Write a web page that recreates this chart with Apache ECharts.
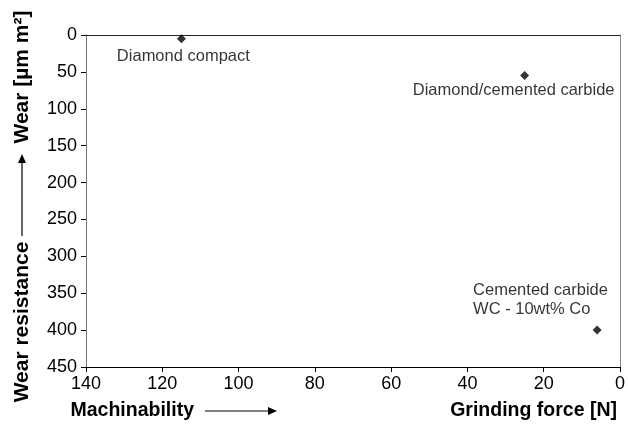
<!DOCTYPE html>
<html>
<head>
<meta charset="utf-8">
<script src="https://cdn.jsdelivr.net/npm/echarts@6/dist/echarts.min.js"></script>
<style>
html,body{margin:0;padding:0;background:#fff;}
#c{width:628px;height:425px;}
</style>
</head>
<body>
<div id="c"></div>
<script>
// Data
const materials = ['Diamond compact', 'Diamond/cemented carbide', 'Cemented carbide\nWC - 10wt% Co'];
const grindingForce = [115, 25, 6];
const wear = [5, 55, 400];
const xTicks = {min: 0, max: 140, interval: 20};
const yTicks = {min: 0, max: 450, interval: 50};

// label placement (styling only)
const labelOffsets = [[2, 18], [-11, 15], [-124, -30]];
const labelAligns = ['center', 'center', 'left'];

const FONT = 'Liberation Sans, Arial, sans-serif';
const chart = echarts.init(document.getElementById('c'), null, {renderer: 'canvas'});

const points = grindingForce.map((f, i) => ({
  value: [f, wear[i]],
  name: materials[i],
  label: {
    show: true,
    position: 'inside',
    offset: labelOffsets[i],
    align: labelAligns[i],
    formatter: materials[i],
    color: '#000',
    fontSize: 16.5,
    lineHeight: 19,
    fontFamily: FONT
  }
}));

function arrowHead(x, y, dir) {
  if (dir === 'right') return [[x, y], [x - 9, y - 4], [x - 9, y + 4]];
  return [[x, y], [x - 4, y + 9], [x + 4, y + 9]];
}

chart.setOption({
  animation: false,
  backgroundColor: '#fff',
  grid: {left: 86, right: 6, top: 35, bottom: 58, containLabel: false},
  xAxis: [{
    type: 'value', inverse: true, position: 'bottom',
    min: xTicks.min, max: xTicks.max, interval: xTicks.interval,
    axisLine: {show: true, onZero: false, lineStyle: {color: '#000', width: 1}},
    axisTick: {show: true, inside: false, length: 5, lineStyle: {color: '#000'}},
    axisLabel: {color: '#000', fontSize: 18, fontFamily: FONT, margin: 8},
    splitLine: {show: false}
  }, {
    type: 'value', inverse: true, position: 'top',
    min: xTicks.min, max: xTicks.max, interval: xTicks.interval,
    axisLine: {show: true, onZero: false, lineStyle: {color: '#222', width: 1}},
    axisTick: {show: false}, axisLabel: {show: false}, splitLine: {show: false}
  }],
  yAxis: [{
    type: 'value', inverse: true, position: 'left',
    min: yTicks.min, max: yTicks.max, interval: yTicks.interval,
    axisLine: {show: true, onZero: false, lineStyle: {color: '#777', width: 1}},
    axisTick: {show: true, inside: false, length: 5, lineStyle: {color: '#000'}},
    axisLabel: {color: '#000', fontSize: 18, fontFamily: FONT, margin: 9},
    splitLine: {show: false}
  }, {
    type: 'value', inverse: true, position: 'right',
    min: yTicks.min, max: yTicks.max, interval: yTicks.interval,
    axisLine: {show: true, onZero: false, lineStyle: {color: '#888', width: 1}},
    axisTick: {show: false}, axisLabel: {show: false}, splitLine: {show: false}
  }],
  series: [{
    type: 'scatter',
    xAxisIndex: 0, yAxisIndex: 0,
    symbol: 'diamond', symbolSize: 9,
    itemStyle: {color: '#000'},
    data: points
  }],
  graphic: [
    {type: 'text', x: 22, y: 77, rotation: Math.PI / 2,
     style: {text: 'Wear [µm m²]', font: 'bold 21px ' + FONT, fill: '#000', textAlign: 'center', textVerticalAlign: 'middle'}},
    {type: 'text', x: 22, y: 322, rotation: Math.PI / 2,
     style: {text: 'Wear resistance', font: 'bold 21px ' + FONT, fill: '#000', textAlign: 'center', textVerticalAlign: 'middle'}},
    {type: 'line', shape: {x1: 22, y1: 236, x2: 22, y2: 162}, style: {stroke: '#000', lineWidth: 1.2}},
    {type: 'polygon', shape: {points: arrowHead(22, 154, 'up')}, style: {fill: '#000'}},
    {type: 'text', x: 194, y: 411,
     style: {text: 'Machinability', font: 'bold 19.5px ' + FONT, fill: '#000', textAlign: 'right', textVerticalAlign: 'middle'}},
    {type: 'line', shape: {x1: 205, y1: 411, x2: 268, y2: 411}, style: {stroke: '#000', lineWidth: 1.2}},
    {type: 'polygon', shape: {points: arrowHead(277, 411, 'right')}, style: {fill: '#000'}},
    {type: 'text', x: 617, y: 411,
     style: {text: 'Grinding force [N]', font: 'bold 19.5px ' + FONT, fill: '#000', textAlign: 'right', textVerticalAlign: 'middle'}}
  ]
});
</script>
</body>
</html>
